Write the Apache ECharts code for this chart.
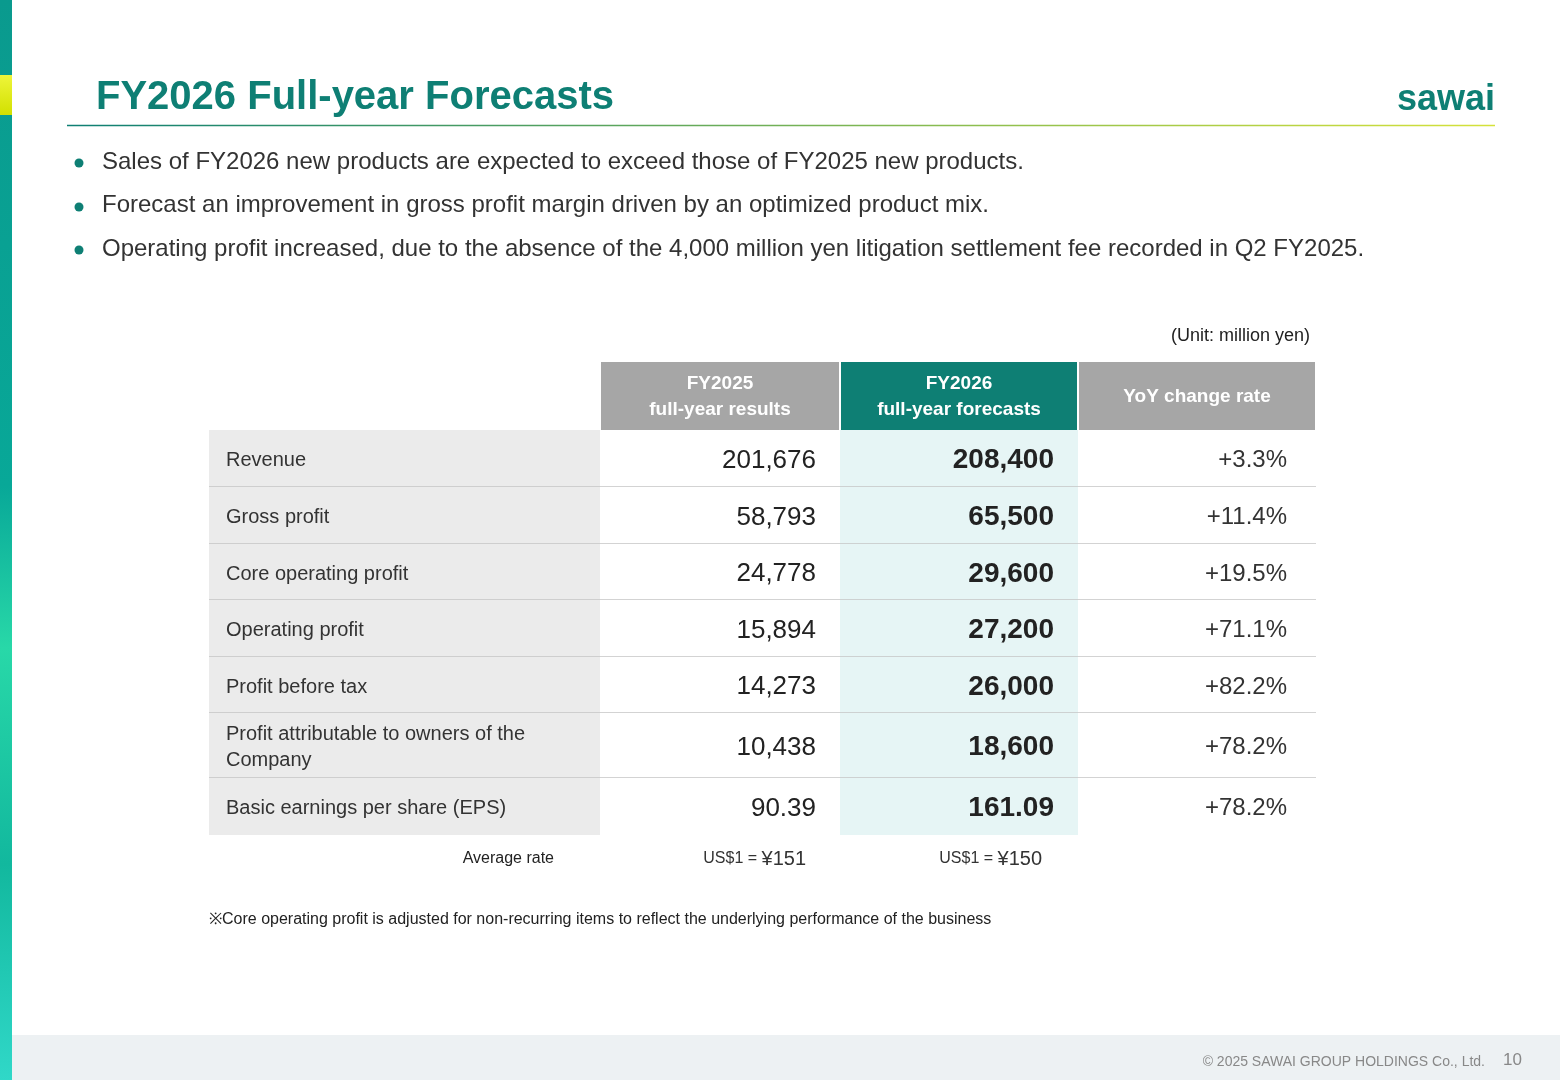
<!DOCTYPE html>
<html><head><meta charset="utf-8">
<script src="https://cdn.jsdelivr.net/npm/echarts@6/dist/echarts.min.js"></script>
<style>html,body{margin:0;padding:0;background:#fff}#c{width:1560px;height:1080px}</style>
</head><body><div id="c"></div>
<script>
var headers = ['', 'FY2025\nfull-year results', 'FY2026\nfull-year forecasts', 'YoY change rate'];
var items = ['Revenue','Gross profit','Core operating profit','Operating profit','Profit before tax','Profit attributable to owners of the\nCompany','Basic earnings per share (EPS)'];
var fy2025 = ['201,676','58,793','24,778','15,894','14,273','10,438','90.39'];
var fy2026 = ['208,400','65,500','29,600','27,200','26,000','18,600','161.09'];
var yoy = ['+3.3%','+11.4%','+19.5%','+71.1%','+82.2%','+78.2%','+78.2%'];
var bullets = ['Sales of FY2026 new products are expected to exceed those of FY2025 new products.','Forecast an improvement in gross profit margin driven by an optimized product mix.','Operating profit increased, due to the absence of the 4,000 million yen litigation settlement fee recorded in Q2 FY2025.'];
var ratePrefix = 'US$1 = ';
var rates = ['¥151','¥150'];

// layout (table-local units = px)
var colX = [0, 391, 631, 869, 1107];
var rowY = [0, 68, 125, 182, 238, 295, 351, 416, 473];

var data = [];
for (var c = 0; c < 4; c++) for (var r = 0; r < 8; r++) data.push([c, r]);

function cellText(c, r) {
  if (r === 0) return headers[c];
  var i = r - 1;
  return [items[i], fy2025[i], fy2026[i], yoy[i]][c];
}

var chart = echarts.init(document.getElementById('c'));
var F = '"Liberation Sans", Arial, sans-serif';
chart.setOption({
  animation: false,
  grid: {left: 209, top: 362, width: 1107, height: 473},
  xAxis: {type: 'value', min: 0, max: 1107, show: false},
  yAxis: {type: 'value', min: 0, max: 473, inverse: true, show: false},
  series: [{
    type: 'custom',
    data: data,
    renderItem: function (params, api) {
      var c = api.value(0), r = api.value(1);
      var p0 = api.coord([colX[c], rowY[r]]);
      var p1 = api.coord([colX[c + 1], rowY[r + 1]]);
      var x = p0[0], y = p0[1], w = p1[0] - p0[0], h = p1[1] - p0[1];
      var ch = [];
      var txt = cellText(c, r);
      if (r === 0) {
        if (c > 0) {
          ch.push({type: 'rect', shape: {x: x + 1, y: y, width: w - 2, height: h}, style: {fill: c === 2 ? '#0e7f74' : '#a6a6a6'}});
          ch.push({type: 'text', style: {text: txt, x: x + w / 2, y: y + h / 2 + 1, align: 'center', verticalAlign: 'middle', fill: '#fff', font: 'bold 19px ' + F, lineHeight: 26}});
        }
      } else {
        var bg = c === 0 ? '#ebebeb' : (c === 2 ? '#e6f5f5' : '#fff');
        ch.push({type: 'rect', shape: {x: x, y: y, width: w, height: h}, style: {fill: bg}});
        if (r < 7) ch.push({type: 'line', shape: {x1: x, y1: y + h, x2: x + w, y2: y + h}, style: {stroke: '#c4c4c4', lineWidth: 1.5}});
        var st;
        if (c === 0) st = {x: x + 17, align: 'left', font: '20px ' + F, fill: '#333', lineHeight: 26};
        else if (c === 1) st = {x: x + w - 24, align: 'right', font: '26px ' + F, fill: '#222'};
        else if (c === 2) st = {x: x + w - 24, align: 'right', font: 'bold 28px ' + F, fill: '#222'};
        else st = {x: x + w - 29, align: 'right', font: '24px ' + F, fill: '#333'};
        st.text = txt; st.y = y + h / 2 + 2; st.verticalAlign = 'middle';
        ch.push({type: 'text', style: st});
      }
      return {type: 'group', children: ch};
    }
  }],
  graphic: [
    {type: 'rect', shape: {x: 0, y: 0, width: 12, height: 1080}, style: {fill: new echarts.graphic.LinearGradient(0, 0, 0.3, 1, [{offset: 0, color: '#0a9a8e'}, {offset: 0.45, color: '#08a898'}, {offset: 0.6, color: '#28d8a8'}, {offset: 0.8, color: '#12b89e'}, {offset: 1, color: '#30d8c8'}])}},
    {type: 'rect', shape: {x: 0, y: 75, width: 12, height: 40}, style: {fill: new echarts.graphic.LinearGradient(0, 0, 0, 1, [{offset: 0, color: '#eef53a'}, {offset: 1, color: '#d2e000'}])}},
    {type: 'text', style: {text: 'FY2026 Full-year Forecasts', x: 96, y: 98, verticalAlign: 'middle', font: 'bold 40px ' + F, fill: '#0e7f74'}},
    {type: 'text', style: {text: 'sawai', x: 1495, y: 100, align: 'right', verticalAlign: 'middle', font: 'bold 36px "Liberation Sans Narrow", "Liberation Sans", sans-serif', fill: '#0e7f74'}},
    {type: 'line', shape: {x1: 67, y1: 125.5, x2: 1495, y2: 125.5}, style: {stroke: new echarts.graphic.LinearGradient(0, 0, 1, 0, [{offset: 0, color: '#0e7f74'}, {offset: 1, color: '#d6e23a'}]), lineWidth: 1.5}},
    {type: 'circle', shape: {cx: 79, cy: 163, r: 4.5}, style: {fill: '#0e7f74'}},
    {type: 'circle', shape: {cx: 79, cy: 207, r: 4.5}, style: {fill: '#0e7f74'}},
    {type: 'circle', shape: {cx: 79, cy: 250, r: 4.5}, style: {fill: '#0e7f74'}},
    {type: 'text', style: {text: bullets[0], x: 102, y: 162, verticalAlign: 'middle', font: '24px ' + F, fill: '#333'}},
    {type: 'text', style: {text: bullets[1], x: 102, y: 205, verticalAlign: 'middle', font: '24px ' + F, fill: '#333'}},
    {type: 'text', style: {text: bullets[2], x: 102, y: 249, verticalAlign: 'middle', font: '24px ' + F, fill: '#333'}},
    {type: 'text', style: {text: '(Unit: million yen)', x: 1310, y: 336, align: 'right', verticalAlign: 'middle', font: '18px ' + F, fill: '#222'}},
    {type: 'text', style: {text: 'Average rate', x: 554, y: 859, align: 'right', verticalAlign: 'middle', font: '16px ' + F, fill: '#222'}},
    {type: 'text', style: {x: 806, y: 859, align: 'right', verticalAlign: 'middle', text: '{a|' + ratePrefix + '}{b|' + rates[0] + '}', rich: {a: {font: '16px ' + F, fill: '#333'}, b: {font: '20px ' + F, fill: '#333'}}}},
    {type: 'text', style: {x: 1042, y: 859, align: 'right', verticalAlign: 'middle', text: '{a|' + ratePrefix + '}{b|' + rates[1] + '}', rich: {a: {font: '16px ' + F, fill: '#333'}, b: {font: '20px ' + F, fill: '#333'}}}},
    {type: 'text', style: {text: '※Core operating profit is adjusted for non-recurring items to reflect the underlying performance of the business', x: 209, y: 920, verticalAlign: 'middle', font: '16px ' + F, fill: '#222'}},
    {type: 'rect', shape: {x: 12, y: 1035, width: 1548, height: 45}, style: {fill: '#edf1f3'}},
    {type: 'text', style: {text: '© 2025 SAWAI GROUP HOLDINGS Co., Ltd.', x: 1485, y: 1062, align: 'right', verticalAlign: 'middle', font: '14px ' + F, fill: '#888'}},
    {type: 'text', style: {text: '10', x: 1522, y: 1060, align: 'right', verticalAlign: 'middle', font: '17px ' + F, fill: '#888'}}
  ]
});
</script></body></html>
